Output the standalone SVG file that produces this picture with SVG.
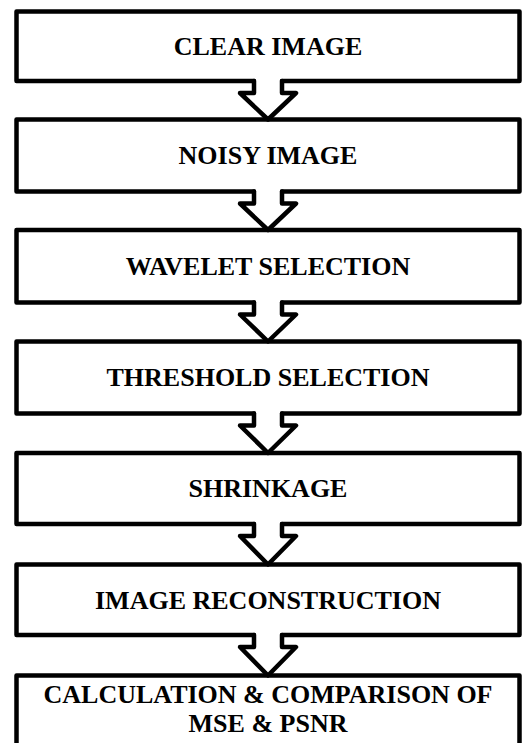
<svg xmlns="http://www.w3.org/2000/svg" width="525" height="743" viewBox="0 0 525 743">
<style>
.box{fill:#fff;stroke:#000;stroke-width:4.5;stroke-linejoin:round;stroke-linecap:round}
.arr{fill:#fff;stroke:#000;stroke-width:4.5;stroke-linejoin:round;stroke-linecap:round}
.t{font-family:"Liberation Serif","Times New Roman",serif;font-weight:bold;font-size:26px;text-anchor:middle;fill:#000}
</style>
<rect width="525" height="743" fill="#fff"/>
<g id="n1"><path class="box" d="M254,81 L16.5,81 L16.5,11.5 L519.5,11.5 L519.5,81 L282,81"/><text class="t" x="268" y="54.5">CLEAR IMAGE</text></g>
<g id="n2"><path class="box" d="M254,191.5 L16.5,191.5 L16.5,119.5 L519.5,119.5 L519.5,191.5 L282,191.5"/><text class="t" x="268" y="164">NOISY IMAGE</text></g>
<g id="n3"><path class="box" d="M254,302.5 L16.5,302.5 L16.5,230 L519.5,230 L519.5,302.5 L282,302.5"/><text class="t" x="268" y="275">WAVELET SELECTION</text></g>
<g id="n4"><path class="box" d="M254,413.5 L16.5,413.5 L16.5,341.5 L519.5,341.5 L519.5,413.5 L282,413.5"/><text class="t" x="268" y="386">THRESHOLD SELECTION</text></g>
<g id="n5"><path class="box" d="M254,524 L16.5,524 L16.5,453 L519.5,453 L519.5,524 L282,524"/><text class="t" x="268" y="497">SHRINKAGE</text></g>
<g id="n6"><path class="box" d="M254,635 L16.5,635 L16.5,564.5 L519.5,564.5 L519.5,635 L282,635"/><text class="t" x="268" y="608.5">IMAGE RECONSTRUCTION</text></g>
<g id="n7"><path class="box" d="M16.5,760 L16.5,675.5 L519.5,675.5 L519.5,760"/><text class="t" x="268" y="703">CALCULATION &amp; COMPARISON OF</text><text class="t" x="268" y="731.5">MSE &amp; PSNR</text></g>
<g id="connectors">
<path class="arr" d="M254,81 L254,93 L240,93 L268,119.5 L296,93 L282,93 L282,81"/>
<path class="arr" d="M254,191.5 L254,203.5 L240,203.5 L268,230 L296,203.5 L282,203.5 L282,191.5"/>
<path class="arr" d="M254,302.5 L254,314.5 L240,314.5 L268,341.5 L296,314.5 L282,314.5 L282,302.5"/>
<path class="arr" d="M254,413.5 L254,425.5 L240,425.5 L268,453 L296,425.5 L282,425.5 L282,413.5"/>
<path class="arr" d="M254,524 L254,536 L240,536 L268,564.5 L296,536 L282,536 L282,524"/>
<path class="arr" d="M254,635 L254,647 L240,647 L268,675.5 L296,647 L282,647 L282,635"/>
</g>
</svg>
